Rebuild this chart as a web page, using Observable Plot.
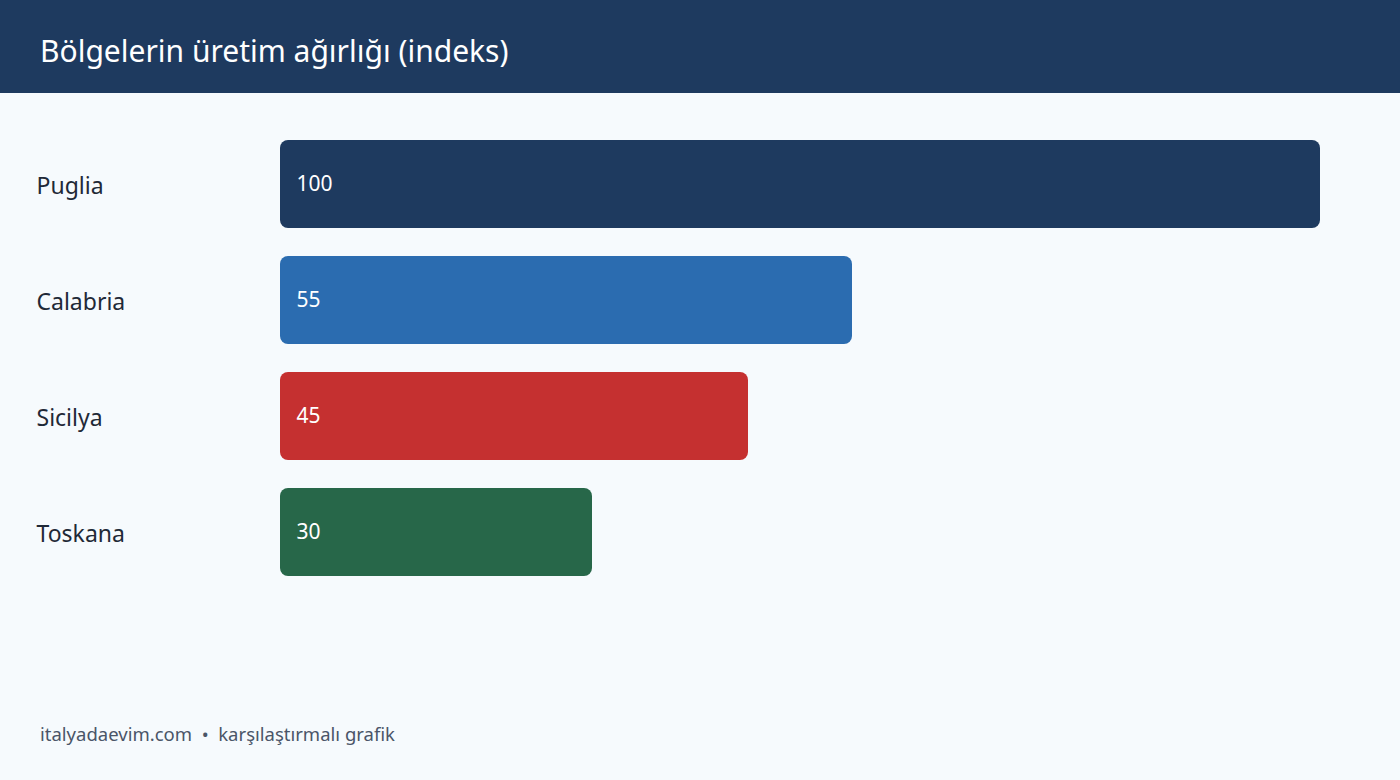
<!DOCTYPE html>
<html>
<head>
<meta charset="utf-8">
<script src="https://cdn.jsdelivr.net/npm/d3@7"></script>
<script src="https://cdn.jsdelivr.net/npm/@observablehq/plot@0.6"></script>
<style>
  html, body { margin: 0; padding: 0; width: 1400px; height: 780px; overflow: hidden; background: #f6fafd; font-family: "Noto Sans", sans-serif; }
  #header { position: absolute; left: 0; top: 0; width: 1400px; height: 93px; background: #1e3a5f; }
  #header h1 { margin: 0; position: absolute; left: 40px; top: 36px; font-size: 30px; font-weight: 400; color: #ffffff; line-height: 1; }
  #chart { position: absolute; left: 0; top: 93px; }
  #footer { position: absolute; left: 40px; top: 725px; font-size: 18.5px; color: #4a5568; line-height: 1; white-space: pre; }
</style>
</head>
<body>
<div id="header"><h1>Bölgelerin üretim ağırlığı (indeks)</h1></div>
<div id="chart"></div>
<div id="footer">italyadaevim.com  •  karşılaştırmalı grafik</div>
<script>
const regions = ["Puglia", "Calabria", "Sicilya", "Toskana"];
const values = [100, 55, 45, 30];
const colors = ["#1e3a5f", "#2b6cb0", "#c53030", "#276749"];

const data = regions.map((r, i) => ({region: r, value: values[i], color: colors[i]}));

const chart = Plot.plot({
  width: 1400,
  height: 600,
  marginLeft: 280,
  marginRight: 80,
  marginTop: 0,
  marginBottom: 0,
  style: {background: "transparent", fontFamily: "Noto Sans, sans-serif"},
  x: {domain: [0, 100], range: [280, 1320], axis: null},
  y: {domain: regions, range: [33, 497], paddingInner: 28/116, paddingOuter: 14/116, label: null},
  marks: [
    Plot.barX(data, {x: "value", y: "region", fill: "color", rx: 8, ry: 8}),
    Plot.text(data, {x: 0, y: "region", text: d => String(d.value), dx: 16, textAnchor: "start", fill: "#ffffff", fontSize: 21}),
    Plot.axisY({tickSize: 0, tickPadding: 0, textAnchor: "start", dx: -244, dy: 2, fontSize: 23, color: "#1f2937", label: null})
  ]
});
document.getElementById("chart").appendChild(chart);
</script>
</body>
</html>
